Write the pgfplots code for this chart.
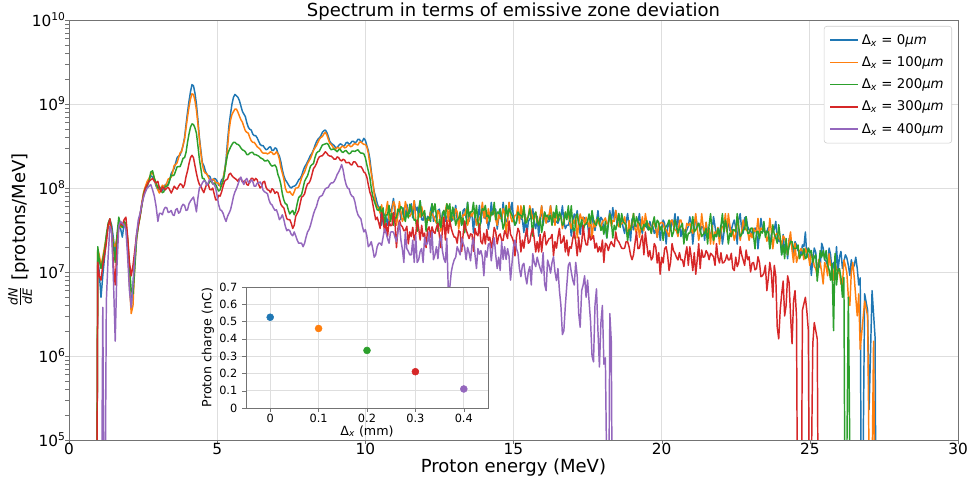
\documentclass[border=0pt]{standalone}
\usepackage{fontspec}
\setmainfont{DejaVu Sans}
\usepackage{amsmath}
\usepackage{pgfplots}
\usepackage{pgfplotstable}
\pgfplotsset{compat=1.18}
\definecolor{c0}{HTML}{1F77B4}
\definecolor{c1}{HTML}{FF7F0E}
\definecolor{c2}{HTML}{2CA02C}
\definecolor{c3}{HTML}{D62728}
\definecolor{c4}{HTML}{9467BD}

\pgfplotstableread{
E B O G R P
0.93 1e3 1e3 1e3 1e3 1e3
0.97 1.5e7 1.9e7 2.0e7 1.3e7 1e3
1.02 1.0e7 1.6e7 1.4e7 9.0e6 1e3
1.08 5.0e6 1.2e7 1.1e7 8.0e6 1e3
1.14 9.0e6 1.5e7 1.4e7 1.2e7 3.8e6
1.20 1.5e7 2.0e7 1.8e7 1.6e7 1e3
1.26 2.5e7 2.6e7 2.8e7 2.2e7 4.5e6
1.32 3.5e7 3.5e7 3.8e7 3.6e7 1.5e7
1.38 4.2e7 4.0e7 4.3e7 4.3e7 3.5e7
1.44 3.6e7 3.0e7 3.3e7 3.0e7 3.0e7
1.50 2.5e7 2.2e7 2.0e7 1.2e7 8.0e6
1.56 1.6e7 2.0e7 1.3e7 7.0e6 1.5e6
1.62 2.4e7 2.6e7 2.8e7 2.0e7 1.2e7
1.68 3.5e7 3.8e7 4.5e7 3.5e7 3.5e7
1.74 3.3e7 3.4e7 3.6e7 3.8e7 4.0e7
1.80 2.6e7 3.6e7 3.4e7 3.6e7 3.8e7
1.86 3.8e7 4.0e7 4.0e7 4.2e7 3.6e7
1.92 3.5e7 3.6e7 3.8e7 4.5e7 3.2e7
1.98 2.0e7 2.2e7 2.5e7 2.6e7 1.5e7
2.04 8.0e6 7.0e6 1.2e7 1.3e7 6.0e6
2.10 3.8e6 3.2e6 6.0e6 9.0e6 3.8e6
2.16 7.0e6 4.0e6 5.5e6 1.2e7 7.0e6
2.22 1.5e7 1.2e7 1.1e7 1.8e7 1.5e7
2.28 2.6e7 2.4e7 2.5e7 2.8e7 2.8e7
2.34 3.8e7 3.6e7 3.5e7 3.6e7 4.2e7
2.40 4.8e7 4.6e7 4.6e7 4.8e7 5.0e7
2.46 6.5e7 6.8e7 6.2e7 6.4e7 6.5e7
2.52 8.5e7 9.0e7 8.6e7 8.2e7 7.8e7
2.58 9.5e7 1.05e8 1.0e8 1.0e8 9.0e7
2.64 1.1e8 1.2e8 1.05e8 1.1e8 1.0e8
2.70 1.25e8 1.3e8 1.2e8 1.2e8 1.05e8
2.76 1.4e8 1.45e8 1.55e8 1.25e8 1.1e8
2.82 1.35e8 1.55e8 1.6e8 1.3e8 9.5e7
2.88 1.25e8 1.3e8 1.3e8 1.2e8 8.0e7
2.94 1.05e8 1.1e8 1.15e8 1.15e8 6.0e7
3.00 9.5e7 9.5e7 1.0e8 1.2e8 4.0e7
3.05 1.04e8 8.7e7 1.02e8 1.0e8 5.0e7
3.1 9.8e7 9.5e7 9.5e7 9.0e7 5.0e7
3.15 9.4e7 1.08e8 8.8e7 1.03e8 4.8e7
3.2 1.0e8 1.05e8 9.0e7 1.0e8 5.5e7
3.25 1.1e8 1.05e8 1.05e8 9.5e7 5.9e7
3.3 1.1e8 1.15e8 1.05e8 1.0e8 5.8e7
3.35 1.11e8 1.28e8 1.09e8 1.02e8 5.1e7
3.4 1.25e8 1.3e8 1.25e8 9.5e7 5.2e7
3.45 1.49e8 1.35e8 1.43e8 8.7e7 5.4e7
3.5 1.6e8 1.55e8 1.4e8 9.5e7 4.8e7
3.55 1.71e8 1.86e8 1.43e8 1.05e8 4.7e7
3.6 2.0e8 1.9e8 1.6e8 1.0e8 5.5e7
3.65 2.3e8 2.0e8 1.79e8 9.7e7 5.7e7
3.7 2.4e8 2.3e8 1.8e8 1.05e8 5.0e7
3.75 2.47e8 2.63e8 1.8e8 1.12e8 5.2e7
3.8 2.8e8 2.7e8 2.0e8 1.1e8 6.0e7
3.85 3.2e8 3.25e8 2.26e8 1.01e8 6.4e7
3.9 4.0e8 3.8e8 2.3e8 1.1e8 6.2e7
3.95 5.7e8 5.2e8 2.66e8 1.37e8 5.4e7
4.0 8.0e8 7.0e8 3.5e8 1.6e8 5.5e7
4.05 1.08e9 9.2e8 4.4e8 1.95e8 6.5e7
4.1 1.4e9 1.15e9 5.3e8 2.3e8 7.0e7
4.15 1.7e9 1.32e9 5.8e8 2.45e8 7.4e7
4.2 1.65e9 1.3e9 5.7e8 2.3e8 7.8e7
4.25 1.35e9 1.1e9 5.2e8 1.85e8 6.5e7
4.3 1.0e9 8.5e8 4.5e8 1.5e8 5.2e7
4.35 6.5e8 5.8e8 3.2e8 1.25e8 7.6e7
4.4 4.0e8 3.8e8 2.2e8 1.1e8 1.0e8
4.45 2.8e8 2.6e8 1.7e8 1.05e8 1.05e8
4.5 2.0e8 1.9e8 1.3e8 9.5e7 1.15e8
4.55 1.85e8 1.6e8 1.3e8 8.8e7 1.22e8
4.6 1.6e8 1.5e8 1.2e8 1.0e8 1.2e8
4.65 1.45e8 1.48e8 1.1e8 1.12e8 1.08e8
4.7 1.4e8 1.35e8 1.1e8 1.1e8 1.15e8
4.75 1.38e8 1.24e8 1.2e8 9.6e7 1.28e8
4.8 1.25e8 1.2e8 1.2e8 9.5e7 1.25e8
4.85 1.22e8 1.28e8 1.12e8 1.0e8 1.12e8
4.9 1.3e8 1.25e8 1.15e8 8.5e7 1.1e8
4.95 1.28e8 1.15e8 1.1e8 7.2e7 1.0e8
5.0 1.2e8 1.15e8 1.0e8 7.2e7 8.0e7
5.05 1.08e8 1.14e8 9.2e7 8.2e7 6.3e7
5.1 1.1e8 1.05e8 9.5e7 8.0e7 5.5e7
5.15 1.25e8 1.06e8 1.1e8 9.0e7 5.4e7
5.2 1.3e8 1.25e8 1.2e8 1.05e8 5.0e7
5.25 1.6e8 1.62e8 1.5e8 1.2e8 4.4e7
5.3 2.2e8 2.0e8 2.0e8 1.25e8 4.0e7
5.35 3.6e8 3.0e8 2.5e8 1.28e8 4.6e7
5.4 5.6e8 4.8e8 2.8e8 1.45e8 5.0e7
5.45 7.6e8 6.4e8 3.05e8 1.5e8 5.5e7
5.5 1.0e9 7.5e8 3.3e8 1.4e8 6.5e7
5.55 1.2e9 8.1e8 3.5e8 1.34e8 7.9e7
5.6 1.3e9 8.7e8 3.5e8 1.3e8 9.0e7
5.65 1.25e9 8.7e8 3.35e8 1.26e8 9.8e7
5.7 1.2e9 8.0e8 3.3e8 1.2e8 1.1e8
5.75 1.1e9 7.2e8 3.2e8 1.3e8 1.24e8
5.8 9.5e8 6.5e8 3.0e8 1.3e8 1.35e8
5.85 8.2e8 6.1e8 2.85e8 1.18e8 1.2e8
5.9 7.6e8 5.4e8 2.8e8 1.2e8 1.1e8
5.95 7.1e8 4.8e8 2.7e8 1.22e8 1.24e8
6.0 6.0e8 4.6e8 2.5e8 1.1e8 1.3e8
6.05 5.3e8 4.5e8 2.5e8 1.08e8 1.17e8
6.1 5.0e8 4.0e8 2.6e8 1.2e8 1.15e8
6.15 4.9e8 3.65e8 2.65e8 1.3e8 1.25e8
6.2 4.4e8 3.5e8 2.65e8 1.3e8 1.2e8
6.25 4.2e8 3.5e8 2.5e8 1.22e8 1.05e8
6.3 4.2e8 3.3e8 2.5e8 1.3e8 1.05e8
6.35 3.95e8 3.1e8 2.45e8 1.25e8 1.14e8
6.4 3.6e8 3.0e8 2.4e8 1.1e8 1.15e8
6.45 3.3e8 2.9e8 2.3e8 1.0e8 1.18e8
6.5 3.2e8 2.7e8 2.25e8 1.05e8 1.1e8
6.55 3.2e8 2.6e8 2.2e8 1.18e8 9.4e7
6.6 3.0e8 2.6e8 2.1e8 1.2e8 9.0e7
6.65 2.85e8 2.6e8 2.1e8 1.02e8 8.8e7
6.7 2.9e8 2.55e8 2.15e8 9.5e7 8.5e7
6.75 3.05e8 2.6e8 2.05e8 9.4e7 7.2e7
6.8 3.1e8 2.7e8 1.9e8 8.8e7 6.5e7
6.85 2.8e8 2.65e8 1.82e8 9.8e7 6.3e7
6.9 2.8e8 2.5e8 1.85e8 9.5e7 5.8e7
6.95 3.0e8 2.55e8 1.88e8 8.6e7 5.4e7
7.0 2.95e8 2.7e8 1.75e8 9.0e7 5.5e7
7.05 2.6e8 2.55e8 1.45e8 8.8e7 4.9e7
7.1 2.4e8 2.2e8 1.3e8 7.5e7 4.2e7
7.15 2.05e8 1.75e8 1.1e8 6.4e7 4.4e7
7.2 1.65e8 1.5e8 8.5e7 6.0e7 4.8e7
7.25 1.4e8 1.28e8 7.2e7 5.8e7 4.2e7
7.3 1.25e8 1.0e8 6.5e7 5.0e7 3.5e7
7.35 1.18e8 9.0e7 6.4e7 4.3e7 3.1e7
7.4 1.1e8 8.8e7 5.5e7 4.2e7 3.2e7
7.45 1.03e8 9.1e7 4.9e7 4.2e7 3.1e7
7.5 1.0e8 8.5e7 5.2e7 3.8e7 2.8e7
7.55 1.04e8 8.2e7 5.4e7 3.3e7 2.7e7
7.6 1.05e8 9.0e7 4.8e7 3.6e7 3.0e7
7.65 1.08e8 1.0e8 5.3e7 4.6e7 2.7e7
7.7 1.15e8 1.0e8 6.5e7 5.0e7 2.4e7
7.75 1.25e8 1.03e8 7.7e7 5.4e7 2.2e7
7.8 1.3e8 1.15e8 8.0e7 6.5e7 2.2e7
7.85 1.4e8 1.32e8 8.4e7 7.8e7 2.2e7
7.9 1.6e8 1.45e8 1.0e8 8.0e7 2.0e7
7.95 1.78e8 1.55e8 1.2e8 8.5e7 2.2e7
8.0 1.9e8 1.75e8 1.3e8 1.0e8 2.6e7
8.05 2.05e8 1.95e8 1.4e8 1.12e8 3.0e7
8.1 2.25e8 2.1e8 1.6e8 1.15e8 3.2e7
8.15 2.45e8 2.25e8 1.82e8 1.25e8 3.6e7
8.2 2.6e8 2.5e8 1.9e8 1.45e8 4.2e7
8.25 2.85e8 2.8e8 1.95e8 1.7e8 4.9e7
8.3 3.2e8 3.0e8 2.3e8 1.8e8 5.5e7
8.35 3.55e8 3.2e8 2.6e8 1.95e8 6.0e7
8.4 3.8e8 3.5e8 2.7e8 2.2e8 7.0e7
8.45 3.95e8 3.8e8 2.75e8 2.35e8 7.8e7
8.5 4.2e8 4.0e8 3.0e8 2.4e8 8.0e7
8.55 4.6e8 4.1e8 3.25e8 2.42e8 8.2e7
8.6 4.8e8 4.4e8 3.3e8 2.55e8 9.0e7
8.65 4.9e8 4.6e8 3.35e8 2.7e8 9.8e7
8.7 4.6e8 4.3e8 3.4e8 2.6e8 1.0e8
8.75 4.1e8 3.8e8 3.3e8 2.45e8 1.02e8
8.8 3.6e8 3.4e8 3.0e8 2.4e8 1.1e8
8.85 3.4e8 3.3e8 2.85e8 2.4e8 1.15e8
8.9 3.3e8 3.1e8 2.9e8 2.3e8 1.15e8
8.95 3.2e8 2.95e8 2.9e8 2.2e8 1.2e8
9.0 3.0e8 2.9e8 2.8e8 2.2e8 1.3e8
9.05 3.05e8 3.05e8 2.7e8 2.35e8 1.45e8
9.1 3.2e8 3.0e8 2.85e8 2.3e8 1.55e8
9.15 3.35e8 2.95e8 2.9e8 2.15e8 1.7e8
9.2 3.3e8 3.1e8 2.7e8 2.1e8 1.9e8
9.25 3.15e8 3.15e8 2.65e8 2.2e8 1.65e8
9.3 3.2e8 3.0e8 2.75e8 2.15e8 1.3e8
9.35 3.45e8 3.05e8 2.8e8 2.0e8 1.1e8
9.4 3.5e8 3.2e8 2.65e8 2.0e8 1.0e8
9.45 3.3e8 3.25e8 2.55e8 2.02e8 9.8e7
9.5 3.4e8 3.1e8 2.6e8 1.9e8 8.5e7
9.55 3.6e8 3.15e8 2.75e8 1.88e8 8.0e7
9.6 3.6e8 3.3e8 2.75e8 2.05e8 7.8e7
9.65 3.45e8 3.4e8 2.72e8 2.05e8 6.8e7
9.7 3.55e8 3.3e8 2.8e8 1.95e8 5.5e7
9.75 3.8e8 3.25e8 2.85e8 1.8e8 4.8e7
9.8 3.8e8 3.5e8 2.7e8 1.8e8 4.5e7
9.85 3.55e8 3.55e8 2.6e8 1.8e8 4.3e7
9.9 3.6e8 3.4e8 2.6e8 1.7e8 3.5e7
9.95 3.9e8 3.3e8 2.55e8 1.55e8 3.0e7
10.0 3.7e8 3.3e8 2.3e8 1.5e8 3.2e7
10.05 3.2e8 3.1e8 1.9e8 1.35e8 2.7e7
10.1 2.8e8 2.6e8 1.6e8 1.1e8 2.0e7
10.15 2.25e8 1.95e8 1.35e8 9.0e7 2.1e7
10.2 1.6e8 1.5e8 1.0e8 8.0e7 2.3e7
10.25 1.15e8 1.2e8 8.0e7 6.5e7 1.9e7
10.3 9.0e7 8.5e7 7.0e7 5.2e7 1.5e7
10.35 7.8e7 6.6e7 6.2e7 4.2e7 1.6e7
10.4 6.6e7 6.0e7 5.5e7 4.5e7 2.0e7
10.45 5.8e7 5.7e7 5.4e7 3.9e7 2.2e7
10.5 5.6e7 5.0e7 6.0e7 3.3e7 2.2e7
10.55 3.6e7 6.3e7 4.8e7 5.1e7 2.08e7
10.6 5.0e7 4.6e7 5.8e7 4.2e7 2.6e7
10.65 4.8e7 3.6e7 3.6e7 2.96e7 3.28e7
10.7 4.4e7 5.4e7 4.8e7 3.8e7 2.9e7
10.75 3.6e7 6.9e7 4.8e7 2.66e7 2.5e7
10.8 5.6e7 4.2e7 6.2e7 4.0e7 2.2e7
10.85 5.25e7 4.0e7 4.0e7 3.55e7 2.99e7
10.9 6.0e7 5.6e7 5.0e7 3.6e7 3.0e7
10.95 7.5e7 6.9e7 3.6e7 5.1e7 2.99e7
11.0 4.8e7 6.2e7 4.4e7 3.9e7 2.6e7
11.05 4.0e7 3.6e7 4.4e7 1.95e7 2.29e7
11.1 5.2e7 4.8e7 5.6e7 3.3e7 3.0e7
11.15 5.75e7 6.9e7 5.25e7 4.14e7 3.9e7
11.2 4.2e7 5.2e7 6.0e7 3.6e7 2.4e7
11.25 5.25e7 4.0e7 5.75e7 3.45e7 1.87e7
11.3 5.8e7 4.4e7 4.6e7 3.1e7 1.3e7
11.35 4.4e7 6.9e7 4.0e7 3.15e7 3.0e7
11.4 6.4e7 5.8e7 5.2e7 3.5e7 1.9e7
11.45 5.25e7 4.8e7 4.4e7 2.16e7 1.76e7
11.5 5.0e7 4.6e7 6.4e7 3.0e7 1.6e7
11.55 6.49e7 4.94e7 5.92e7 2.64e7 1.6e7
11.6 4.4e7 5.6e7 4.8e7 3.4e7 2.4e7
11.65 7.05e7 7.05e7 4.14e7 2.4e7 1.3e7
11.7 5.4e7 4.2e7 4.2e7 2.8e7 2.7e7
11.75 5.92e7 3.06e7 3.06e7 4.14e7 1.3e7
11.8 4.6e7 5.0e7 5.6e7 3.3e7 1.4e7
11.85 7.05e7 4.51e7 7.05e7 2.4e7 1.76e7
11.9 4.2e7 6.0e7 4.6e7 3.6e7 1.9e7
11.95 4.14e7 4.94e7 4.94e7 2.64e7 1.3e7
12.0 5.0e7 4.6e7 5.4e7 2.9e7 2.6e7
12.05 3.76e7 3.76e7 3.06e7 1.95e7 2.1e7
12.1 4.6e7 4.2e7 4.4e7 3.2e7 2.2e7
12.15 4.14e7 4.14e7 4.51e7 3.45e7 3.0e7
12.2 5.4e7 5.2e7 4.0e7 2.6e7 1.7e7
12.25 6.49e7 4.94e7 6.49e7 3.45e7 3.0e7
12.3 4.0e7 4.6e7 5.2e7 3.0e7 1.4e7
12.35 4.51e7 4.14e7 6.49e7 2.88e7 1.6e7
12.4 4.8e7 3.8e7 4.6e7 3.4e7 2.0e7
12.45 5.4e7 5.4e7 3.06e7 3.78e7 1.44e7
12.5 5.6e7 5.0e7 4.2e7 2.7e7 2.3e7
12.55 3.76e7 3.06e7 3.38e7 1.95e7 2.76e7
12.6 4.6e7 4.4e7 5.0e7 3.1e7 1.8e7
12.65 5.4e7 3.76e7 5.4e7 4.5e7 1.44e7
12.7 4.0e7 5.4e7 4.4e7 2.4e7 1.3e7
12.75 4.51e7 6.49e7 6.49e7 4.14e7 2.52e7
12.8 5.2e7 4.0e7 5.6e7 2.9e7 6.0e6
12.85 4.14e7 5.92e7 6.49e7 4.14e7 6.5e6
12.9 4.4e7 4.8e7 4.0e7 3.3e7 1.0e7
12.95 4.14e7 4.51e7 5.92e7 2.88e7 1.22e7
13.0 5.0e7 4.2e7 4.8e7 2.6e7 1.4e7
13.05 6.21e7 5.67e7 3.6e7 2.59e7 1.5e7
13.1 4.2e7 5.2e7 4.2e7 2.2e7 2.0e7
13.15 3.96e7 3.24e7 4.32e7 3.1e7 1.79e7
13.2 4.8e7 4.4e7 5.2e7 3.0e7 1.6e7
13.25 3.6e7 3.96e7 3.6e7 1.76e7 2.55e7
13.3 5.4e7 4.8e7 4.4e7 2.8e7 2.2e7
13.35 5.67e7 4.73e7 2.93e7 4.05e7 1.96e7
13.4 4.4e7 5.6e7 3.8e7 3.2e7 1.4e7
13.45 6.75e7 3.6e7 6.75e7 2.84e7 1.96e7
13.5 4.0e7 4.2e7 4.6e7 2.5e7 1.7e7
13.55 4.73e7 5.18e7 5.18e7 2.84e7 1.36e7
13.6 4.8e7 4.6e7 5.2e7 2.8e7 2.1e7
13.65 2.93e7 5.18e7 6.75e7 1.76e7 2.55e7
13.7 5.2e7 5.0e7 4.4e7 3.3e7 1.6e7
13.75 3.6e7 3.6e7 6.21e7 2.84e7 1.1e7
13.8 4.4e7 4.0e7 4.0e7 2.7e7 1.9e7
13.85 6.21e7 4.32e7 2.93e7 3.73e7 1.63e7
13.9 3.8e7 4.8e7 4.8e7 2.3e7 1.8e7
13.95 6.21e7 6.75e7 5.67e7 2.16e7 1.5e7
14.0 4.6e7 4.4e7 5.4e7 2.9e7 9.0e6
14.05 4.32e7 5.67e7 6.21e7 2.16e7 1.79e7
14.1 5.0e7 3.8e7 4.6e7 3.2e7 1.5e7
14.15 3.24e7 5.67e7 4.73e7 2.38e7 2.14e7
14.2 4.2e7 4.6e7 4.0e7 2.6e7 2.2e7
14.25 6.75e7 4.73e7 5.18e7 1.94e7 1.36e7
14.3 4.8e7 5.2e7 4.8e7 2.4e7 2.0e7
14.35 5.67e7 5.67e7 6.75e7 3.4e7 2.55e7
14.4 5.6e7 4.2e7 4.2e7 3.0e7 1.6e7
14.45 3.24e7 3.6e7 5.18e7 2.16e7 1.1e7
14.5 4.4e7 4.8e7 5.0e7 2.7e7 1.5e7
14.55 5.18e7 4.32e7 5.67e7 2.84e7 1.04e7
14.6 4.0e7 4.4e7 4.4e7 2.4e7 2.3e7
14.65 6.75e7 5.67e7 3.24e7 2.38e7 1.41e7
14.7 4.8e7 5.0e7 3.8e7 3.1e7 2.0e7
14.75 3.96e7 2.93e7 6.21e7 2.84e7 1.41e7
14.8 4.2e7 4.0e7 4.6e7 2.5e7 1.9e7
14.85 6.75e7 6.75e7 5.67e7 4.05e7 1.54e7
14.9 5.0e7 4.6e7 5.2e7 2.8e7 8.0e6
14.95 6.75e7 3.96e7 4.73e7 2.59e7 1.28e7
15.0 4.4e7 4.2e7 4.2e7 2.3e7 2.0e7
15.05 3.61e7 4.72e7 3.61e7 1.56e7 2.4e7
15.1 3.9e7 4.8e7 4.0e7 2.6e7 1.9e7
15.15 5.17e7 6.15e7 5.17e7 3.31e7 1.68e7
15.2 4.6e7 3.8e7 4.8e7 3.0e7 1.1e7
15.25 4.31e7 6.15e7 4.72e7 1.73e7 8.8e6
15.3 4.2e7 4.4e7 4.4e7 2.4e7 1.2e7
15.35 2.95e7 6.15e7 6.15e7 1.92e7 1.27e7
15.4 4.8e7 4.0e7 3.8e7 2.7e7 9.0e6
15.45 2.67e7 4.31e7 3.94e7 3.31e7 7.2e6
15.5 4.0e7 4.6e7 4.6e7 2.2e7 1.0e7
15.55 4.31e7 6.15e7 5.66e7 2.3e7 1.16e7
15.6 4.4e7 5.2e7 4.2e7 2.9e7 7.0e6
15.65 5.66e7 4.31e7 2.67e7 3.31e7 1.65e7
15.7 3.8e7 4.2e7 4.8e7 2.5e7 1.3e7
15.75 3.28e7 5.17e7 5.17e7 1.73e7 1.16e7
15.8 4.6e7 3.9e7 4.0e7 2.3e7 1.5e7
15.85 2.67e7 3.94e7 3.61e7 1.73e7 1.27e7
15.9 4.2e7 4.6e7 4.4e7 2.8e7 1.1e7
15.95 6.15e7 6.15e7 2.95e7 1.73e7 9.7e6
16.0 3.6e7 4.2e7 3.8e7 2.6e7 1.7e7
16.05 5.17e7 4.72e7 5.17e7 3.02e7 7.2e6
16.1 4.4e7 3.8e7 4.6e7 2.1e7 6.0e6
16.15 3.94e7 4.72e7 4.72e7 2.3e7 1.39e7
16.2 4.0e7 4.8e7 4.2e7 2.5e7 1.2e7
16.25 6.15e7 6.15e7 4.72e7 2.52e7 9.7e6
16.3 4.6e7 4.4e7 3.6e7 2.8e7 1.3e7
16.35 3.94e7 4.72e7 5.17e7 1.56e7 1.52e7
16.4 4.2e7 3.6e7 4.4e7 2.3e7 1.0e7
16.45 3.94e7 5.17e7 6.15e7 1.92e7 7.9e6
16.5 3.8e7 4.2e7 4.0e7 2.6e7 1.1e7
16.55 4.31e7 4.72e7 5.17e7 3.31e7 6.0e6
16.6 4.4e7 4.6e7 4.6e7 2.2e7 4.0e6
16.65 6.15e7 3.28e7 3.61e7 2.3e7 1.8e6
16.7 4.0e7 4.0e7 3.8e7 2.7e7 2.0e6
16.75 3.28e7 5.17e7 5.17e7 1.73e7 4.0e6
16.8 3.6e7 4.4e7 4.2e7 2.4e7 7.0e6
16.85 3.61e7 5.17e7 6.15e7 1.56e7 1.2e7
16.9 4.2e7 3.8e7 4.0e7 2.0e7 1.3e7
16.95 2.67e7 3.28e7 6.15e7 1.92e7 1.0e7
17.0 3.8e7 4.2e7 3.6e7 2.5e7 8.0e6
17.05 4.91e7 3.74e7 2.54e7 3.02e7 7.0e6
17.1 4.4e7 4.6e7 4.4e7 2.3e7 1.3e7
17.15 5.38e7 2.54e7 4.91e7 1.56e7 9.0e6
17.2 3.6e7 3.8e7 3.8e7 2.6e7 3.2e6
17.25 2.81e7 4.91e7 3.43e7 1.73e7 2.2e6
17.3 4.0e7 4.2e7 4.2e7 2.2e7 6.0e6
17.35 4.49e7 4.49e7 3.12e7 3.6e7 7.0e6
17.4 4.4e7 3.6e7 3.6e7 2.5e7 9.0e6
17.45 3.74e7 4.49e7 3.74e7 2.11e7 5.0e6
17.5 3.8e7 4.0e7 4.0e7 2.1e7 8.0e6
17.55 2.54e7 3.43e7 4.91e7 3.31e7 4.5e6
17.6 4.2e7 4.4e7 3.8e7 2.4e7 2.6e6
17.65 4.49e7 2.54e7 5.38e7 2.52e7 1.0e6
17.7 3.6e7 3.8e7 4.2e7 2.7e7 8.5e5
17.75 3.12e7 3.43e7 3.74e7 1.92e7 4.0e6
17.8 4.0e7 4.2e7 3.6e7 2.2e7 6.3e6
17.85 5.38e7 4.1e7 4.49e7 1.73e7 2.0e6
17.9 3.7e7 3.6e7 3.9e7 2.0e7 7.4e5
17.95 4.49e7 3.43e7 3.12e7 1.73e7 2.5e6
18.0 4.2e7 4.0e7 3.5e7 2.4e7 4.0e6
18.05 3.12e7 4.1e7 2.81e7 1.3e7 8.0e5
18.1 3.5e7 4.4e7 4.0e7 2.2e7 9.5e5
18.15 2.54e7 3.74e7 2.54e7 2.1e7 nan
18.2 4.0e7 3.8e7 3.7e7 1.8e7 1e3
18.25 5.38e7 4.91e7 4.91e7 2.1e7 3.2e6
18.3 3.8e7 3.5e7 4.1e7 2.3e7 1.5e6
18.35 5.85e7 4.1e7 2.54e7 2.1e7 1e3
18.4 4.2e7 4.0e7 3.6e7 2.0e7 nan
18.45 5.4e7 5.4e7 3.17e7 3.0e7 nan
18.5 3.6e7 4.2e7 3.8e7 2.4e7 nan
18.55 4.97e7 3.46e7 4.97e7 2.3e7 nan
18.6 4.0e7 3.6e7 3.4e7 2.1e7 nan
18.65 4.14e7 3.78e7 4.97e7 1.92e7 nan
18.7 3.4e7 3.9e7 4.0e7 1.9e7 nan
18.75 2.88e7 4.54e7 3.78e7 1.92e7 nan
18.8 3.9e7 3.4e7 3.6e7 2.3e7 nan
18.85 4.97e7 2.59e7 2.34e7 2.3e7 nan
18.9 3.5e7 4.1e7 3.2e7 2.0e7 nan
18.95 2.34e7 3.17e7 3.17e7 1.6e7 nan
19.0 4.3e7 3.7e7 3.8e7 1.4e7 nan
19.05 3.17e7 4.97e7 4.97e7 1.6e7 nan
19.1 3.6e7 3.3e7 3.5e7 2.2e7 nan
19.15 3.46e7 2.88e7 4.54e7 3.0e7 nan
19.2 3.9e7 4.0e7 3.9e7 1.9e7 nan
19.25 4.97e7 2.59e7 3.78e7 1.92e7 nan
19.3 3.3e7 3.5e7 3.3e7 2.4e7 nan
19.35 2.88e7 4.54e7 3.17e7 2.76e7 nan
19.4 3.8e7 3.1e7 3.7e7 1.6e7 nan
19.45 3.78e7 4.97e7 3.46e7 3.0e7 nan
19.5 3.4e7 3.8e7 4.1e7 2.1e7 nan
19.55 3.17e7 3.78e7 3.17e7 1.52e7 nan
19.6 4.0e7 3.4e7 3.4e7 1.8e7 nan
19.65 3.46e7 2.88e7 2.88e7 1.39e7 nan
19.7 3.5e7 3.9e7 3.8e7 1.5e7 nan
19.75 2.88e7 3.78e7 4.54e7 2.18e7 nan
19.8 3.2e7 3.3e7 3.3e7 2.0e7 nan
19.85 2.59e7 2.59e7 4.14e7 1.28e7 nan
19.9 3.7e7 3.6e7 3.9e7 1.7e7 nan
19.95 2.38e7 3.8e7 3.17e7 9.4e6 nan
20.0 3.3e7 3.9e7 3.5e7 1.5e7 nan
20.05 4.16e7 3.8e7 2.38e7 1.28e7 nan
20.1 3.8e7 3.2e7 3.2e7 1.9e7 nan
20.15 2.15e7 3.17e7 3.47e7 2.0e7 nan
20.2 3.4e7 2.9e7 3.7e7 1.6e7 nan
20.25 3.8e7 2.64e7 4.16e7 1.04e7 nan
20.3 3.1e7 4.0e7 3.4e7 1.3e7 nan
20.35 4.16e7 4.16e7 2.64e7 2.18e7 nan
20.4 3.6e7 3.5e7 3.0e7 1.8e7 nan
20.45 4.95e7 3.17e7 4.16e7 1.67e7 nan
20.5 3.2e7 3.1e7 3.6e7 1.5e7 nan
20.55 4.55e7 2.64e7 2.9e7 1.39e7 nan
20.6 3.7e7 4.1e7 3.3e7 1.7e7 nan
20.65 2.64e7 4.16e7 3.47e7 1.39e7 nan
20.7 3.3e7 3.4e7 3.8e7 1.4e7 nan
20.75 2.38e7 3.17e7 2.15e7 1.16e7 nan
20.8 2.9e7 3.0e7 3.2e7 1.6e7 nan
20.85 3.17e7 3.8e7 2.38e7 2.0e7 nan
20.9 3.5e7 3.6e7 2.9e7 1.2e7 nan
20.95 4.55e7 3.8e7 2.9e7 2.0e7 nan
21.0 3.8e7 3.2e7 3.4e7 1.5e7 nan
21.05 2.15e7 2.9e7 4.55e7 1.04e7 nan
21.1 3.2e7 3.7e7 3.0e7 1.7e7 nan
21.15 4.55e7 4.95e7 3.17e7 9.4e6 nan
21.2 3.6e7 3.3e7 3.5e7 1.4e7 nan
21.25 3.8e7 2.38e7 3.8e7 2.18e7 nan
21.3 3.0e7 2.9e7 3.2e7 1.1e7 nan
21.35 3.47e7 4.95e7 2.64e7 1.83e7 nan
21.4 3.4e7 3.5e7 2.8e7 1.5e7 nan
21.45 2.38e7 2.9e7 2.9e7 1.52e7 nan
21.5 3.9e7 3.9e7 3.3e7 1.8e7 nan
21.55 2.9e7 2.64e7 2.15e7 1.67e7 nan
21.6 3.3e7 3.2e7 3.6e7 1.4e7 nan
21.65 2.64e7 2.15e7 4.95e7 1.67e7 nan
21.7 3.0e7 3.6e7 3.1e7 1.6e7 nan
21.75 4.55e7 2.15e7 2.38e7 1.52e7 nan
21.8 3.5e7 3.0e7 2.8e7 1.2e7 nan
21.85 2.64e7 2.9e7 2.64e7 2.18e7 nan
21.9 3.2e7 3.4e7 3.3e7 1.5e7 nan
21.95 2.9e7 2.15e7 2.64e7 1.28e7 nan
22.0 3.6e7 3.1e7 3.5e7 1.7e7 nan
22.05 2.15e7 3.47e7 4.95e7 1.28e7 nan
22.1 2.9e7 3.5e7 3.0e7 1.3e7 nan
22.15 3.8e7 4.95e7 4.16e7 1.39e7 nan
22.2 3.4e7 3.0e7 3.4e7 1.6e7 nan
22.25 3.8e7 4.95e7 2.15e7 1.39e7 nan
22.3 3.1e7 3.6e7 2.9e7 1.4e7 nan
22.35 3.17e7 2.64e7 2.64e7 1.67e7 nan
22.4 3.7e7 3.2e7 3.2e7 1.1e7 nan
22.45 4.16e7 2.38e7 3.17e7 1.04e7 nan
22.5 3.3e7 2.8e7 3.0e7 1.5e7 nan
22.55 2.15e7 4.55e7 4.95e7 1.16e7 nan
22.6 4.2e7 3.3e7 3.4e7 1.3e7 nan
22.65 4.95e7 2.38e7 2.64e7 2.0e7 nan
22.7 3.2e7 3.0e7 2.8e7 1.6e7 nan
22.75 2.9e7 4.16e7 3.17e7 1.39e7 nan
22.8 4.4e7 3.4e7 3.2e7 1.2e7 nan
22.85 4.55e7 3.17e7 4.55e7 1.83e7 nan
22.9 3.5e7 3.1e7 2.9e7 1.4e7 nan
22.95 3.17e7 2.38e7 2.9e7 1.52e7 nan
23.0 3.1e7 2.9e7 3.3e7 1.0e7 nan
23.05 2.78e7 2.55e7 3.34e7 1.27e7 nan
23.1 2.8e7 3.3e7 2.7e7 1.3e7 nan
23.15 3.34e7 3.05e7 1.89e7 1.06e7 nan
23.2 3.2e7 3.0e7 3.0e7 1.1e7 nan
23.25 1.89e7 4.35e7 3.05e7 1.52e7 nan
23.3 2.9e7 2.8e7 2.5e7 1.3e7 nan
23.35 4.35e7 3.34e7 3.05e7 8.8e6 nan
23.4 3.3e7 3.2e7 2.9e7 9.0e6 nan
23.45 3.05e7 3.34e7 4.0e7 9.7e6 nan
23.5 3.0e7 2.9e7 2.6e7 1.2e7 nan
23.55 3.05e7 2.32e7 3.05e7 6.0e6 nan
23.6 3.4e7 2.7e7 3.0e7 8.5e6 nan
23.65 1.89e7 4.35e7 1.89e7 1.3e7 nan
23.7 2.8e7 3.1e7 2.4e7 1.0e7 nan
23.75 3.05e7 1.89e7 3.65e7 5.0e6 nan
23.8 3.2e7 2.6e7 2.8e7 1.2e7 nan
23.85 4.0e7 2.78e7 2.55e7 9.0e6 nan
23.9 2.6e7 2.9e7 2.2e7 2.2e6 nan
23.95 2.32e7 2.55e7 3.65e7 1.6e6 nan
24.0 2.4e7 2.4e7 2.6e7 3.5e6 nan
24.05 1.6e7 2.1e7 1.6e7 5.5e6 nan
24.1 2.8e7 2.7e7 2.1e7 7.8e6 nan
24.15 1.76e7 2.52e7 1.44e7 3.0e6 nan
24.2 2.2e7 2.1e7 2.5e7 4.0e6 nan
24.25 1.44e7 1.6e7 1.6e7 9.0e6 nan
24.3 2.5e7 2.4e7 2.0e7 7.5e6 nan
24.35 2.52e7 3.0e7 2.3e7 3.0e6 nan
24.4 2.0e7 1.8e7 2.3e7 1.4e6 nan
24.45 1.6e7 1.3e7 1.92e7 4.5e6 nan
24.5 2.3e7 2.2e7 1.9e7 6.0e6 nan
24.55 2.1e7 1.3e7 1.92e7 3.0e6 nan
24.6 1.8e7 1.5e7 2.1e7 1e3 nan
24.65 1.76e7 1.76e7 1.44e7 nan nan
24.7 1.6e7 1.9e7 1.6e7 1e3 nan
24.75 2.1e7 1.76e7 1.6e7 3.5e6 nan
24.8 2.0e7 1.4e7 1.9e7 4.2e6 nan
24.85 3.0e7 1.92e7 1.44e7 5.0e6 nan
24.9 1.5e7 1.7e7 1.5e7 3.4e6 nan
24.95 1.92e7 1.6e7 1.92e7 2.0e6 nan
25.0 1.8e7 1.2e7 1.7e7 1e3 nan
25.05 9.1e6 1.65e7 1.8e7 nan nan
25.1 1.4e7 1.5e7 1.3e7 1.4e6 nan
25.15 1.93e7 1.16e7 1.51e7 2.5e6 nan
25.2 1.7e7 1.1e7 1.6e7 2.0e6 nan
25.25 1.01e7 8.8e6 7.8e6 1.6e6 nan
25.3 1.3e7 1.4e7 1.2e7 1e3 nan
25.35 1.12e7 1.27e7 1.8e7 nan nan
25.4 2.2e7 1.0e7 1.5e7 nan nan
25.45 1.93e7 7.2e6 1.8e7 nan nan
25.5 1.4e7 1.3e7 1.4e7 nan nan
25.55 1.34e7 1.16e7 1.8e7 nan nan
25.6 1.2e7 9.0e6 1.2e7 nan nan
25.65 1.93e7 1.65e7 1.06e7 nan nan
25.7 1.6e7 1.2e7 8.0e6 nan nan
25.75 1.01e7 1.16e7 1.26e7 nan nan
25.8 1.3e7 8.0e6 2.0e6 nan nan
25.85 1.01e7 1.27e7 1.66e7 nan nan
25.9 2.0e7 1.1e7 7.0e6 nan nan
25.95 1.01e7 9.7e6 1.06e7 nan nan
26.0 1.5e7 1.0e7 1.1e7 nan nan
26.05 1.76e7 7.2e6 8.6e6 nan nan
26.1 1.1e7 7.0e6 5.0e6 nan nan
26.15 1.34e7 1.39e7 8.6e6 nan nan
26.2 1.6e7 1.2e7 1e3 nan nan
26.25 1.47e7 9.7e6 nan nan nan
26.3 1.2e7 5.0e6 5.0e6 nan nan
26.35 9.1e6 4.0e6 nan nan nan
26.4 1.4e7 1.0e7 1e3 nan nan
26.45 1.12e7 1.3e7 nan nan nan
26.5 1.2e7 8.5e6 nan nan nan
26.55 1.5e7 5.0e6 nan nan nan
26.6 1.1e7 3.0e6 nan nan nan
26.65 7.0e6 5.5e6 nan nan nan
26.7 8.5e6 1.2e6 nan nan nan
26.75 1e3 nan nan nan nan
26.85 5.5e6 4.5e6 nan nan nan
26.95 3.5e6 3.0e6 nan nan nan
27.0 2.3e5 nan nan nan nan
27.05 nan 1e3 nan nan nan
27.1 6.0e6 nan nan nan nan
27.15 nan 1.5e6 nan nan nan
27.2 1.7e6 nan nan nan nan
27.22 nan 1e3 nan nan nan
27.25 1e3 nan nan nan nan
}\spec

\begin{document}
\begin{tikzpicture}
\begin{axis}[
  at={(0pt,0pt)}, anchor=south west,
  scale only axis,
  width=666.75pt, height=315pt,
  xmin=0, xmax=30, ymin=1e5, ymax=1e10,
  ymode=log, log basis y=10,
  xtick={0,5,...,30},
  yticklabel={\pgfmathtruncatemacro{\e}{round(\tick)}10\textsuperscript{\e}},
  /pgf/number format/assume math mode=true,
  tick label style={font=\fontsize{11.5}{13}\selectfont},
  xticklabel style={yshift=4pt},
  yticklabel style={xshift=4pt},
  major tick length=3pt,
  every axis title/.style={at={(0.5,1)}, anchor=base, yshift=2.5pt, font=\fontsize{13.5}{16}\selectfont},
  title={Spectrum in terms of emissive zone deviation},
  every axis x label/.style={at={(rel axis cs:0.5,0)}, anchor=base, yshift=-24.5pt, font=\fontsize{13.5}{16}\selectfont},
  every axis y label/.style={at={(rel axis cs:-0.0551,0.5)}, anchor=center, rotate=90, font=\fontsize{13.5}{16}\selectfont},
  xlabel={Proton energy (MeV)},
  ylabel={$\frac{\textit{dN}}{\textit{dE}}$ [protons/MeV]},
  grid=major,
  grid style={black!13, line width=0.6pt},
  axis line style={black!55},
  tick style={black!55},
  tick align=outside,
  tick pos=left,
  every axis plot/.append style={line width=1.1pt, line join=round},
  legend cell align=left,
  legend image code/.code={\draw[#1, line width=1.2pt] (0pt,0pt) -- (21pt,0pt);},
  legend style={at={(1,1)}, anchor=north east, xshift=-4.5pt, yshift=-4.5pt,
    draw=black!20, rounded corners=2pt,
    font=\fontsize{10}{12}\selectfont, row sep=3.75pt, inner sep=4pt},
]
\addplot[c0] table[x=E, y=B] {\spec};
\addplot[c1] table[x=E, y=O] {\spec};
\addplot[c2] table[x=E, y=G] {\spec};
\addplot[c3] table[x=E, y=R] {\spec};
\addplot[c4] table[x=E, y=P] {\spec};
\legend{{Δ\textsubscript{\textit{x}} = 0\textit{μm}},
        {Δ\textsubscript{\textit{x}} = 100\textit{μm}},
        {Δ\textsubscript{\textit{x}} = 200\textit{μm}},
        {Δ\textsubscript{\textit{x}} = 300\textit{μm}},
        {Δ\textsubscript{\textit{x}} = 400\textit{μm}}}
\end{axis}
\begin{axis}[
  at={(132.75pt,24pt)}, anchor=south west,
  scale only axis,
  width=181.5pt, height=90.75pt,
  xmin=-0.05, xmax=0.45, ymin=0, ymax=0.7,
  xtick={0,0.1,0.2,0.3,0.4},
  xticklabels={0,0.1,0.2,0.3,0.4},
  ytick={0,0.1,...,0.7},
  yticklabels={0,0.1,0.2,0.3,0.4,0.5,0.6,0.7},
  axis background/.style={fill=white},
  grid=major,
  grid style={black!13, line width=0.5pt},
  axis line style={black!55},
  tick style={black!55},
  tick align=outside,
  tick pos=left,
  major tick length=3pt,
  tick label style={font=\fontsize{8.5}{10}\selectfont},
  xticklabel style={yshift=2pt},
  label style={font=\fontsize{9.5}{11}\selectfont},
  xlabel={Δ\textsubscript{\textit{x}} (mm)},
  ylabel={Proton charge (nC)},
  xlabel style={yshift=4.5pt},
  ylabel style={yshift=-3pt},
]
\addplot[only marks, mark=*, mark size=2.6pt, c0] coordinates {(0,0.525)};
\addplot[only marks, mark=*, mark size=2.6pt, c1] coordinates {(0.1,0.46)};
\addplot[only marks, mark=*, mark size=2.6pt, c2] coordinates {(0.2,0.333)};
\addplot[only marks, mark=*, mark size=2.6pt, c3] coordinates {(0.3,0.21)};
\addplot[only marks, mark=*, mark size=2.6pt, c4] coordinates {(0.4,0.11)};
\end{axis}
\pgfresetboundingbox
\useasboundingbox (-51.75pt,-30.75pt) rectangle (673.5pt,330pt);
\end{tikzpicture}
\end{document}
